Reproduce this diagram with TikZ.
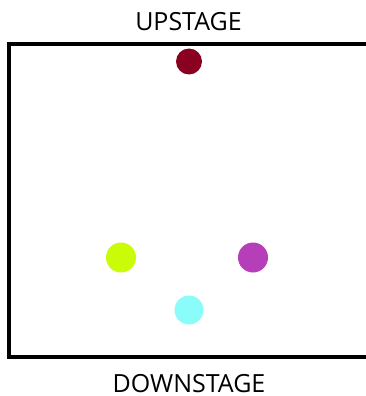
\documentclass[tikz,border=0pt]{standalone}
\usepackage{fontspec}
\setmainfont{Open Sans}
\usepackage{xcolor}
\usepackage{tikz}
\usetikzlibrary{positioning}
\definecolor{actorred}{RGB}{138,0,32}
\definecolor{actorlime}{RGB}{202,252,8}
\definecolor{actorpurple}{RGB}{182,62,184}
\definecolor{actorcyan}{RGB}{138,252,250}

\begin{document}
\begin{tikzpicture}[x=1pt, y=-1pt,
    actor/.style={circle, inner sep=0pt, minimum size=30pt},
    label/.style={font=\fontsize{25}{25}\selectfont, inner sep=0pt}]
    \useasboundingbox (0,0) rectangle (366,396);
    \clip (0,0) rectangle (366,396);
    % stage edge
    \draw[line width=4pt] (9,44.5) rectangle (380,356.5);
    \node[label] (up) at (188.5,22) {UPSTAGE};
    \node[label] (down) at (189,384) {DOWNSTAGE};
    % actors
    \node[actor, fill=actorred, minimum size=26pt] (red) at (189,61.5) {};
    \node[actor, fill=actorlime] (lime) at (121,257.5) {};
    \node[actor, fill=actorpurple] (purple) at (253,257.5) {};
    \node[actor, fill=actorcyan, minimum size=29pt] (cyan) at (189,310) {};
\end{tikzpicture}
\end{document}
